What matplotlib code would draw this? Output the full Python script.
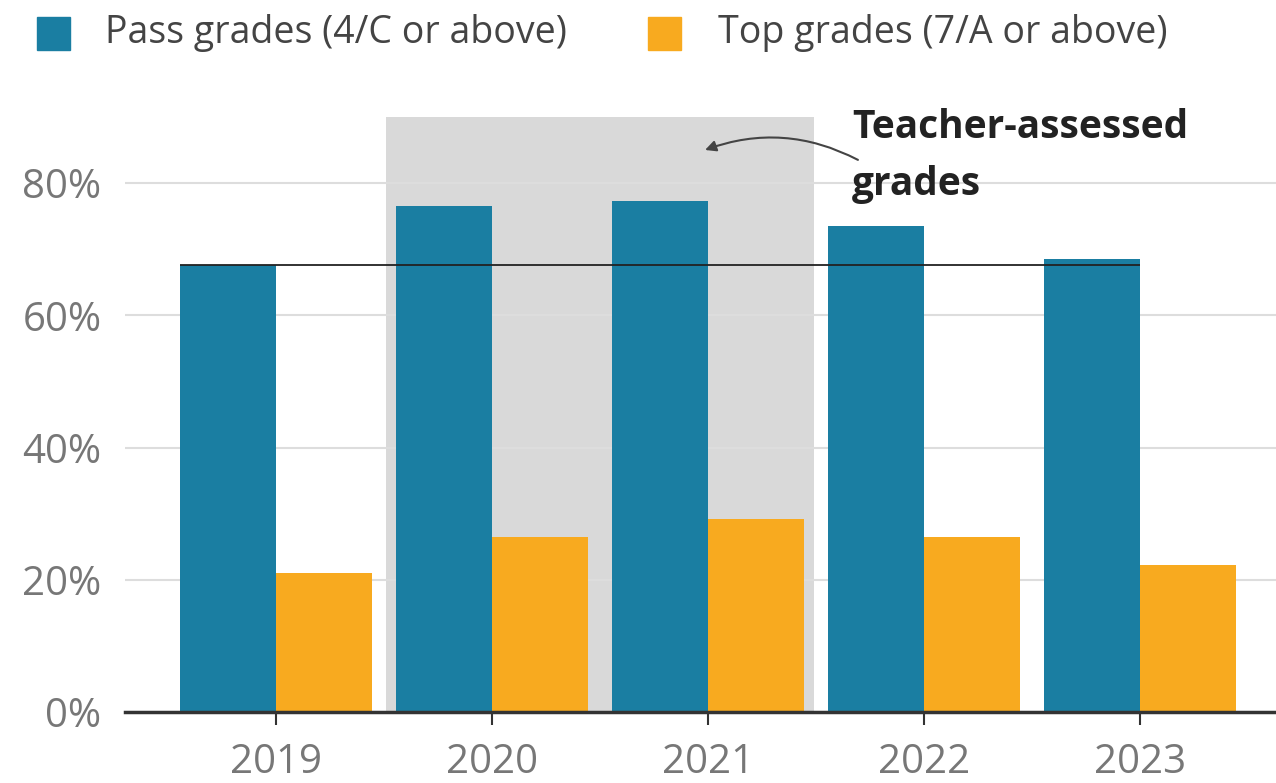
import matplotlib.pyplot as plt
from matplotlib.patches import Rectangle
import numpy as np

plt.rcParams['font.family'] = ['Open Sans', 'DejaVu Sans']

# -- data ----------------------------------------------------------------------
years      = ['2019', '2020', '2021', '2022', '2023']
pass_pct   = [67.6, 76.5, 77.3, 73.5, 68.5]
top_pct    = [21.0, 26.5, 29.2, 26.5, 22.2]
labels     = ['Pass grades (4/C or above)', 'Top grades (7/A or above)']
y_ticks    = [0, 20, 40, 60, 80]
shaded     = ['2020', '2021']
note       = 'Teacher-assessed\ngrades'

pass_col = '#1a7ea2'
top_col  = '#f8aa1f'
shade_col = '#d9d9d9'

# -- figure --------------------------------------------------------------------
fig = plt.figure(figsize=(12.76, 7.83), dpi=100)
ax = fig.add_axes([0.098, 0.0907, 0.902, 0.760])

x = np.arange(len(years))
w = 0.445

i0 = years.index(shaded[0])
i1 = years.index(shaded[-1])
ax.axvspan(i0 - 0.49, i1 + 0.49, ymin=0, ymax=1, color=shade_col, zorder=0, lw=0)

ax.bar(x - w / 2, pass_pct, w, color=pass_col, zorder=2)
ax.bar(x + w / 2, top_pct, w, color=top_col, zorder=2)

# 2019 reference level
ax.hlines(pass_pct[0], x[0] - w, x[-1], color='#222222', lw=1.3, zorder=3)

ax.set_xlim(-0.70, 4.63)
ax.set_ylim(0, 90)
ax.set_yticks(y_ticks)
ax.set_yticklabels([f'{v}%' for v in y_ticks])
ax.set_xticks(x)
ax.set_xticklabels(years)

ax.yaxis.grid(True, color='#dddddd', lw=1.5, zorder=1)
ax.set_axisbelow(True)
for s in ['top', 'right', 'left']:
    ax.spines[s].set_visible(False)
ax.spines['bottom'].set_color('#333333')
ax.spines['bottom'].set_linewidth(2.5)
ax.spines['bottom'].set_zorder(4)

ax.tick_params(axis='y', length=0, pad=17, labelsize=29, labelcolor='#777777')
ax.tick_params(axis='x', length=9, width=1.5, color='#333333', pad=13,
               labelsize=29, labelcolor='#777777')

# annotation (va='baseline' sits on the last line)
ax.text(2.667, 78.2, note, fontsize=28, fontweight='bold', color='#222222',
        ha='left', va='baseline', linespacing=1.6)
ax.annotate('', xy=(1.986, 85.0), xytext=(2.694, 83.5),
            arrowprops=dict(arrowstyle='-|>', color='#444444', lw=1.5,
                            mutation_scale=16, shrinkA=0, shrinkB=0,
                            connectionstyle='arc3,rad=0.22'),
            annotation_clip=False)

# legend
fig.patches.append(Rectangle((37 / 1276, 1 - 50 / 783), 33 / 1276, 33 / 783,
                             transform=fig.transFigure, color=pass_col))
fig.text(105 / 1276, 1 - 43 / 783, labels[0], fontsize=27, color='#444444',
         va='baseline', ha='left')
fig.patches.append(Rectangle((648 / 1276, 1 - 50 / 783), 33 / 1276, 33 / 783,
                             transform=fig.transFigure, color=top_col))
fig.text(718 / 1276, 1 - 43 / 783, labels[1], fontsize=27, color='#444444',
         va='baseline', ha='left')

fig.savefig('out.png', dpi=100)
